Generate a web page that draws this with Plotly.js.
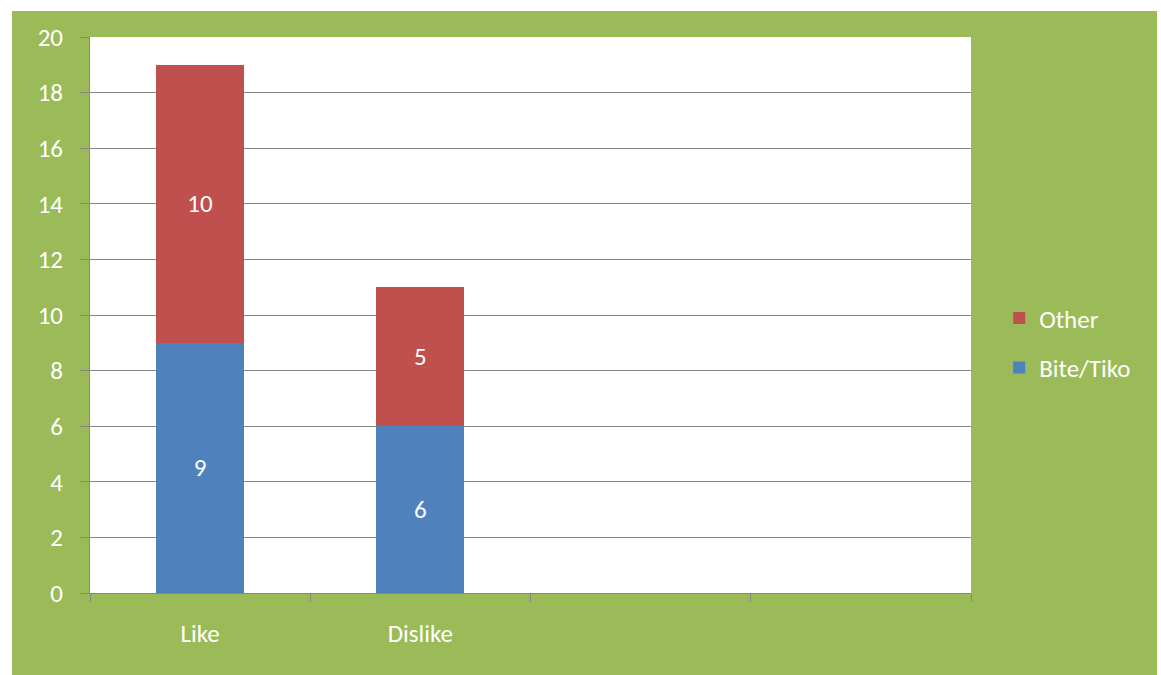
<!DOCTYPE html>
<html>
<head>
<meta charset="utf-8">
<script src="https://cdn.plot.ly/plotly-3.0.1.min.js"></script>
<style>
html,body{margin:0;padding:0;background:#ffffff;}
#chart{position:absolute;left:12px;top:11px;width:1145px;height:664px;}
</style>
</head>
<body>
<div id="chart"></div>
<script>
const categories = ["Like", "Dislike", " ", "  "];
const biteTiko = [9, 6, null, null];
const other = [10, 5, null, null];
const yTicks = [0, 2, 4, 6, 8, 10, 12, 14, 16, 18, 20];

const font = "Carlito, 'Open Sans', 'Liberation Sans', sans-serif";
const fs = 25;

const traces = [
  {
    type: "bar", name: "Bite/Tiko", x: categories, y: biteTiko,
    legendgroup: "b", legendrank: 2,
    marker: {color: "#4F81BD"},
    text: biteTiko.map(v => v == null ? "" : String(v)),
    textposition: "inside", insidetextanchor: "middle",
    textfont: {color: "#ffffff", size: fs, family: font},
    hoverinfo: "x+y+name"
  },
  {
    type: "bar", name: "Other", x: categories, y: other,
    legendgroup: "o", legendrank: 1,
    marker: {color: "#C0504D"},
    text: other.map(v => v == null ? "" : String(v)),
    textposition: "inside", insidetextanchor: "middle",
    textfont: {color: "#ffffff", size: fs, family: font},
    hoverinfo: "x+y+name"
  }
];

const layout = {
  width: 1145, height: 664,
  paper_bgcolor: "#9BBB59",
  plot_bgcolor: "#ffffff",
  barmode: "stack",
  bargap: 0.6,
  margin: {l: 78, r: 186, t: 26, b: 82},
  font: {family: font, color: "#ffffff", size: fs},
  xaxis: {
    type: "category",
    categoryorder: "array", categoryarray: categories,
    range: [-0.5, 3.5],
    showline: true, linecolor: "#868686", linewidth: 1,
    ticks: "outside", tickson: "boundaries", ticklen: 8, tickcolor: "#868686",
    tickfont: {size: fs, color: "#ffffff", family: font},
    showgrid: false, zeroline: false,
    ticklabelstandoff: 18
  },
  yaxis: {
    range: [0, 20], tickvals: yTicks, ticktext: yTicks.map(String),
    showline: true, linecolor: "#868686", linewidth: 1,
    ticks: "outside", ticklen: 9, tickcolor: "#868686",
    showgrid: true, gridcolor: "#868686", gridwidth: 1,
    zeroline: false,
    tickfont: {size: fs, color: "#ffffff", family: font},
    ticklabelstandoff: 12
  },
  legend: {
    x: 1.032, y: 0.45, xanchor: "left", yanchor: "middle",
    bgcolor: "rgba(0,0,0,0)",
    font: {size: fs, color: "#ffffff", family: font},
    traceorder: "grouped",
    itemwidth: 30,
    tracegroupgap: 14
  },
  showlegend: true
};

Plotly.newPlot("chart", traces, layout, {displayModeBar: false, staticPlot: true});
</script>
</body>
</html>
